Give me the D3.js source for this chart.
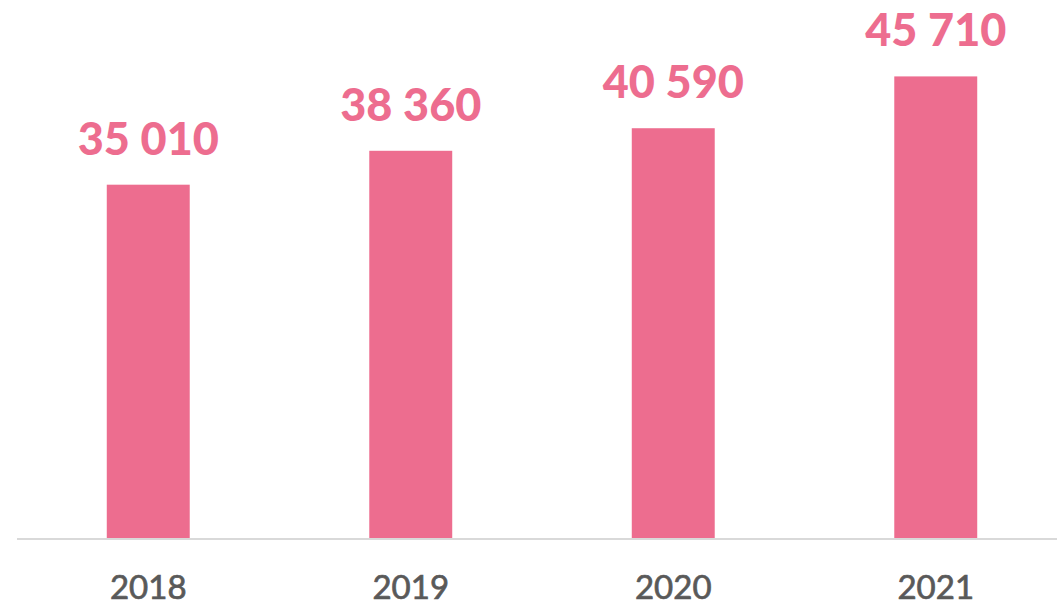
<!DOCTYPE html>
<html>
<head>
<meta charset="utf-8">
<script src="https://cdn.jsdelivr.net/npm/d3@7"></script>
<style>
  html, body { margin: 0; padding: 0; background: #fff; }
  svg { display: block; }
</style>
</head>
<body>
<svg id="chart" width="1057" height="605"></svg>
<script>
const categories = ["2018", "2019", "2020", "2021"];
const values = [35010, 38360, 40590, 45710];
const valueLabels = ["35 010", "38 360", "40 590", "45 710"];

const W = 1057, H = 605;
const baseY = 539;
const svg = d3.select("#chart");

const x = d3.scaleBand()
  .domain(categories)
  .range([17, 1067])
  .paddingInner(0.684)
  .paddingOuter(0.342);

const y = d3.scaleLinear()
  .domain([0, 53260])
  .range([baseY, 0]);

const barColor = "#ED6D8F";

svg.append("g").selectAll("rect")
  .data(values)
  .join("rect")
  .attr("x", (d, i) => x(categories[i]))
  .attr("y", d => y(d))
  .attr("width", x.bandwidth())
  .attr("height", d => y(0) - y(d))
  .attr("fill", barColor);

// baseline axis
const xAxis = d3.axisBottom(x).tickSize(0).tickPadding(0);
const axisG = svg.append("g")
  .attr("transform", `translate(0,${baseY})`)
  .call(xAxis);
axisG.select(".domain").remove();
axisG.append("line")
  .attr("x1", 17).attr("x2", W)
  .attr("y1", 0).attr("y2", 0)
  .attr("stroke", "#D9D9D9")
  .attr("stroke-width", 2);
axisG.selectAll(".tick text")
  .attr("dy", null)
  .attr("y", 60)
  .attr("font-family", "Lato, sans-serif")
  .attr("font-weight", 400)
  .attr("font-size", 33)
  .attr("fill", "#595959")
  .attr("stroke", "#595959")
  .attr("stroke-width", 0.7)
  .attr("text-anchor", "middle");

svg.append("g").selectAll("text")
  .data(values)
  .join("text")
  .attr("x", (d, i) => x(categories[i]) + x.bandwidth() / 2)
  .attr("y", d => y(d) - 30)
  .attr("text-anchor", "middle")
  .attr("font-family", "Lato, 'Open Sans', sans-serif")
  .attr("font-weight", 900)
  .attr("font-size", 45)
  .attr("fill", barColor)
  .text((d, i) => valueLabels[i]);
</script>
</body>
</html>
